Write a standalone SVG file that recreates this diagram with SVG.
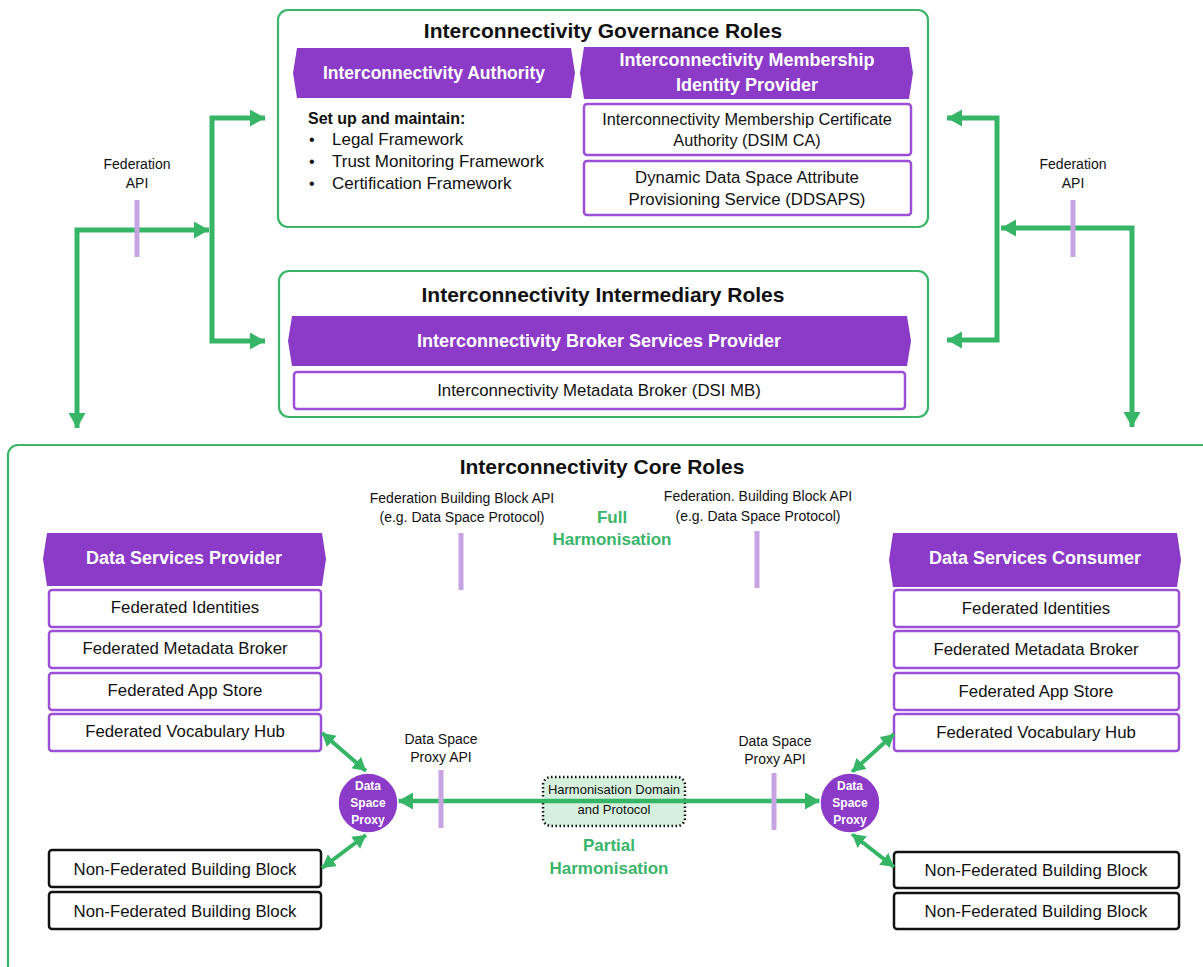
<svg xmlns="http://www.w3.org/2000/svg" width="1203" height="967" viewBox="0 0 1203 967">
  <style>
    text { font-family: "Liberation Sans", Arial, sans-serif; fill: #111; }
    .title { font-size: 21px; font-weight: bold; text-anchor: middle; }
    .band { fill: #8b3bc7; }
    .bandtxt { font-size: 18px; font-weight: bold; fill: #fff; text-anchor: middle; }
    .item { fill: #fff; stroke: #9b4fd6; stroke-width: 2.5; }
    .plain { fill: #fff; stroke: #111; stroke-width: 2.5; }
    .t16 { font-size: 16.8px; text-anchor: middle; }
    .lbl { font-size: 14px; text-anchor: middle; }
    .frame { fill: none; stroke: #3ab56a; stroke-width: 2.2; }
    .tick { stroke: #c7a3e2; stroke-width: 5; }
    .harm { font-size: 17px; font-weight: bold; fill: #3ab56a; text-anchor: middle; }
    .wire { fill: none; stroke: #36b566; stroke-width: 5; marker-start: url(#ah); marker-end: url(#ah); }
    .link { fill: none; stroke: #36b566; stroke-width: 4; marker-start: url(#sh); marker-end: url(#sh); }
    .proxy { fill: #8b3bc7; stroke: #fff; stroke-width: 1.5; }
    .ptxt { font-size: 12px; font-weight: bold; fill: #fff; text-anchor: middle; }
  </style>
  <defs>
    <marker id="ah" markerUnits="userSpaceOnUse" markerWidth="16" markerHeight="18" refX="15" refY="8.5" orient="auto-start-reverse">
      <path d="M0,0 L15,8.5 L0,17 z" fill="#36b566"/>
    </marker>
    <marker id="sh" markerUnits="userSpaceOnUse" markerWidth="14" markerHeight="16" refX="13" refY="7.5" orient="auto-start-reverse">
      <path d="M0,0 L13,7.5 L0,15 z" fill="#36b566"/>
    </marker>
  </defs>

  <!-- Governance roles -->
  <g id="governance">
    <rect class="frame" x="278" y="10" width="650" height="217" rx="10"/>
    <text class="title" x="603" y="38">Interconnectivity Governance Roles</text>
  </g>
  <g id="authority">
    <path class="band" d="M297,48 L571,48 L575,73 L571,98 L297,98 L293,73 Z"/>
    <text class="bandtxt" x="434" y="79" style="font-size:17.5px">Interconnectivity Authority</text>
    <text x="308" y="124" style="font-size:16px;font-weight:bold">Set up and maintain:</text>
    <text x="309" y="145" style="font-size:16px">•</text>
    <text x="332" y="145" style="font-size:17px">Legal Framework</text>
    <text x="309" y="167" style="font-size:16px">•</text>
    <text x="332" y="167" style="font-size:17px">Trust Monitoring Framework</text>
    <text x="309" y="189" style="font-size:16px">•</text>
    <text x="332" y="189" style="font-size:17px">Certification Framework</text>
  </g>
  <g id="membership-idp">
    <path class="band" d="M584,47 L909,47 L913,73 L909,99 L584,99 L580,73 Z"/>
    <text class="bandtxt" x="747" y="66">Interconnectivity Membership</text>
    <text class="bandtxt" x="747" y="91">Identity Provider</text>
  </g>
  <g id="dsim-ca">
    <rect class="item" x="584" y="104" width="327" height="51" rx="3"/>
    <text class="t16" x="747" y="125" style="font-size:16.3px">Interconnectivity Membership Certificate</text>
    <text class="t16" x="747" y="146" style="font-size:16.3px">Authority (DSIM CA)</text>
  </g>
  <g id="ddsaps">
    <rect class="item" x="584" y="161" width="327" height="54" rx="3"/>
    <text class="t16" x="747" y="183">Dynamic Data Space Attribute</text>
    <text class="t16" x="747" y="205">Provisioning Service (DDSAPS)</text>
  </g>

  <!-- Intermediary roles -->
  <g id="intermediary">
    <rect class="frame" x="279" y="271" width="649" height="146" rx="10"/>
    <text class="title" x="603" y="302">Interconnectivity Intermediary Roles</text>
  </g>
  <g id="broker-provider">
    <path class="band" d="M292,316 L907,316 L911,341 L907,366 L292,366 L288,341 Z"/>
    <text class="bandtxt" x="599" y="347">Interconnectivity Broker Services Provider</text>
  </g>
  <g id="dsi-mb">
    <rect class="item" x="294" y="372" width="611" height="37" rx="3"/>
    <text class="t16" x="599" y="396">Interconnectivity Metadata Broker (DSI MB)</text>
  </g>

  <!-- Core roles -->
  <g id="core">
    <rect class="frame" x="8" y="445" width="1240" height="560" rx="10"/>
    <text class="title" x="602" y="474">Interconnectivity Core Roles</text>
  </g>

  <g id="provider">
    <path class="band" d="M47,533 L322,533 L326,559 L322,586 L47,586 L43,559 Z"/>
    <text class="bandtxt" x="184" y="564">Data Services Provider</text>
    <rect class="item" x="49" y="590" width="272" height="37" rx="3"/>
    <text class="t16" x="185" y="613">Federated Identities</text>
    <rect class="item" x="49" y="631" width="272" height="37" rx="3"/>
    <text class="t16" x="185" y="654">Federated Metadata Broker</text>
    <rect class="item" x="49" y="673" width="272" height="37" rx="3"/>
    <text class="t16" x="185" y="696">Federated App Store</text>
    <rect class="item" x="49" y="714" width="272" height="37" rx="3"/>
    <text class="t16" x="185" y="737">Federated Vocabulary Hub</text>
  </g>
  <g id="provider-nonfed">
    <rect class="plain" x="49" y="850" width="272" height="37" rx="3"/>
    <text class="t16" x="185" y="875">Non-Federated Building Block</text>
    <rect class="plain" x="49" y="892" width="272" height="37" rx="3"/>
    <text class="t16" x="185" y="917">Non-Federated Building Block</text>
  </g>

  <g id="consumer">
    <path class="band" d="M893,533 L1177,533 L1181,560 L1177,587 L893,587 L889,560 Z"/>
    <text class="bandtxt" x="1035" y="564">Data Services Consumer</text>
    <rect class="item" x="894" y="590" width="285" height="37" rx="3"/>
    <text class="t16" x="1036" y="614">Federated Identities</text>
    <rect class="item" x="894" y="631" width="285" height="37" rx="3"/>
    <text class="t16" x="1036" y="655">Federated Metadata Broker</text>
    <rect class="item" x="894" y="673" width="285" height="37" rx="3"/>
    <text class="t16" x="1036" y="697">Federated App Store</text>
    <rect class="item" x="894" y="714" width="285" height="37" rx="3"/>
    <text class="t16" x="1036" y="738">Federated Vocabulary Hub</text>
  </g>
  <g id="consumer-nonfed">
    <rect class="plain" x="894" y="852" width="285" height="36" rx="3"/>
    <text class="t16" x="1036" y="876">Non-Federated Building Block</text>
    <rect class="plain" x="894" y="893" width="285" height="36" rx="3"/>
    <text class="t16" x="1036" y="917">Non-Federated Building Block</text>
  </g>

  <g id="harmonisation-domain">
    <rect x="543" y="777" width="142" height="49" rx="8" fill="#d5f0dd" stroke="#111" stroke-width="2.5" stroke-dasharray="1.5,2.5"/>
  </g>

  <!-- Connectors -->
  <g id="connectors">
    <path class="wire" d="M265,118 L212,118 L212,341 L265,341"/>
    <path class="wire" d="M209,230 L77,230 L77,428"/>
    <path class="wire" d="M947,118 L997,118 L997,340 L947,340"/>
    <path class="wire" d="M1001,228 L1132,228 L1132,427"/>
    <path class="wire" style="stroke-width:4.5" d="M398,801 L820,801"/>
    <path class="link" d="M322,733 L366,771"/>
    <path class="link" d="M366,835 L322,868"/>
    <path class="link" d="M894,734 L852,772"/>
    <path class="link" d="M852,834 L894,867"/>
  </g>

  <!-- API interface ticks and labels -->
  <g id="api-marks">
    <line class="tick" x1="137" y1="200" x2="137" y2="257"/>
    <line class="tick" x1="1073" y1="200" x2="1073" y2="257"/>
    <line class="tick" x1="461" y1="533" x2="461" y2="590"/>
    <line class="tick" x1="757" y1="531" x2="757" y2="588"/>
    <line class="tick" x1="441" y1="770" x2="441" y2="828"/>
    <line class="tick" x1="774" y1="773" x2="774" y2="830"/>
    <text class="lbl" x="137" y="169">Federation</text>
    <text class="lbl" x="137" y="188">API</text>
    <text class="lbl" x="1073" y="169">Federation</text>
    <text class="lbl" x="1073" y="188">API</text>
    <text class="lbl" x="462" y="503">Federation Building Block API</text>
    <text class="lbl" x="462" y="522">(e.g. Data Space Protocol)</text>
    <text class="lbl" x="758" y="501">Federation. Building Block API</text>
    <text class="lbl" x="758" y="521">(e.g. Data Space Protocol)</text>
    <text class="lbl" x="441" y="744">Data Space</text>
    <text class="lbl" x="441" y="762">Proxy API</text>
    <text class="lbl" x="775" y="746">Data Space</text>
    <text class="lbl" x="775" y="764">Proxy API</text>
    <text class="harm" x="612" y="523">Full</text>
    <text class="harm" x="612" y="545">Harmonisation</text>
    <text class="harm" x="609" y="851">Partial</text>
    <text class="harm" x="609" y="874">Harmonisation</text>
    <text x="614" y="794" style="font-size:13px;text-anchor:middle">Harmonisation Domain</text>
    <text x="614" y="814" style="font-size:13px;text-anchor:middle">and Protocol</text>
  </g>

  <g id="proxy-left">
    <circle class="proxy" cx="368" cy="803" r="30"/>
    <text class="ptxt" x="368" y="790">Data</text>
    <text class="ptxt" x="368" y="807">Space</text>
    <text class="ptxt" x="368" y="824">Proxy</text>
  </g>
  <g id="proxy-right">
    <circle class="proxy" cx="850" cy="803" r="30"/>
    <text class="ptxt" x="850" y="790">Data</text>
    <text class="ptxt" x="850" y="807">Space</text>
    <text class="ptxt" x="850" y="824">Proxy</text>
  </g>
</svg>
